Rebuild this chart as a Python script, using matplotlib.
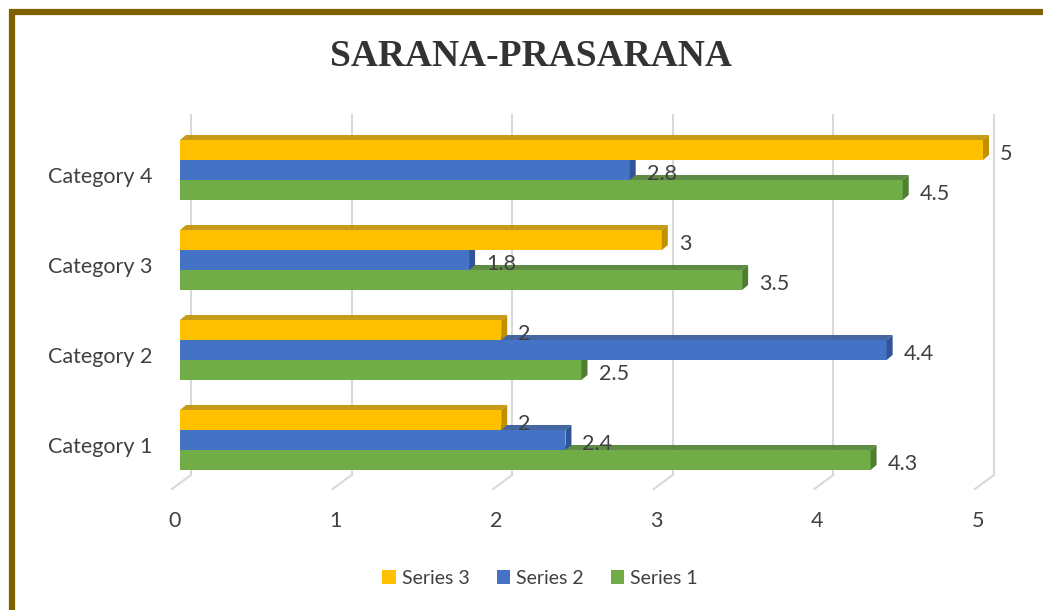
import numpy as np
import matplotlib.pyplot as plt
from matplotlib.patches import Polygon, Rectangle, Patch

categories = ['Category 1', 'Category 2', 'Category 3', 'Category 4']
series1 = [4.3, 2.5, 3.5, 4.5]
series2 = [2.4, 4.4, 1.8, 2.8]
series3 = [2, 2, 3, 5]
x_ticks = [0, 1, 2, 3, 4, 5]

# front colour, darker side colour
colors = {
    'Series 1': ('#70AD47', '#4E7F31'),
    'Series 2': ('#4472C4', '#2F5597'),
    'Series 3': ('#FFC000', '#C09000'),
}
text_color = '#404040'
font = ['Lato', 'DejaVu Sans']

fig = plt.figure(figsize=(10.43, 6.10), dpi=100)

# brown frame, cut off at the right and bottom like the screenshot
fig.patches.append(Rectangle((12 / 1043, -0.2), 1.2, 1.2 - 12 / 610,
                             transform=fig.transFigure, fill=False,
                             edgecolor='#7F6000', linewidth=4.5))

px = 160.6          # pixels per unit on x
ax = fig.add_axes([180 / 1043, 110 / 610, 5.3 * px / 1043, 400 / 610])
ax.set_xlim(0, 5.3)
ax.set_ylim(-0.667, 3.778)
ax.axis('off')

h = 20 / 90          # bar thickness in category units
ddx, ddy = 6 / px, 5 / 90     # bar depth
gdx = 11 / px                 # back wall offset for the gridlines

# gridlines on the back wall plus the short floor diagonals
for v in x_ticks:
    gx = v + gdx
    ax.plot([gx, gx], [(440 - 475) / 90, (440 - 115) / 90], color='#D9D9D9', lw=1.5, zorder=0)
    ax.plot([gx, gx - 19 / px], [(440 - 475) / 90, (440 - 489) / 90], color='#D9D9D9', lw=1.5,
            zorder=0, clip_on=False)
    ax.text(v - 5 / px, (440 - 521) / 90, str(v), ha='center', va='center', fontsize=15.5,
            color=text_color, family=font, clip_on=False)


def bar3d(y0, w, front, side):
    # front face
    ax.add_patch(Rectangle((0, y0), w, h, facecolor=front, edgecolor='none', zorder=2))
    # top face
    ax.add_patch(Polygon([(0, y0 + h), (w, y0 + h), (w + ddx, y0 + h + ddy), (ddx, y0 + h + ddy)],
                         closed=True, facecolor=side, edgecolor='none', zorder=2, alpha=0.9))
    # end face
    ax.add_patch(Polygon([(w, y0), (w + ddx, y0 + ddy), (w + ddx, y0 + h + ddy), (w, y0 + h)],
                         closed=True, facecolor=side, edgecolor='none', zorder=2))


groups = [('Series 1', series1, -1), ('Series 2', series2, 0), ('Series 3', series3, 1)]
for i, cat in enumerate(categories):
    for name, vals, off in groups:
        front, side = colors[name]
        y0 = i + off * h - h / 2   # bottom of this bar
        bar3d(y0, vals[i], front, side)
        ax.text(vals[i] + 17 / px, y0 + h / 2 - 4 / 90, f'{vals[i]:g}', ha='left', va='center',
                fontsize=15.5, color=text_color, family=font, zorder=3)
    ax.text(-28 / px, i - 7 / 90, cat, ha='right', va='center', fontsize=15.5,
            color=text_color, family=font)

fig.text(531 / 1043, 1 - 57 / 610, 'SARANA-PRASARANA', ha='center', va='center',
         fontsize=27, fontweight='bold', color='#333333',
         family=['Liberation Serif', 'DejaVu Serif'])

handles = [Patch(facecolor=colors[n][0], label=n) for n in ['Series 3', 'Series 2', 'Series 1']]
fig.legend(handles=handles, loc='center', bbox_to_anchor=(540 / 1043, 1 - 578 / 610), ncol=3,
           frameon=False, handlelength=0.7, handleheight=0.7, handletextpad=0.3,
           columnspacing=1.4, prop={'family': font, 'size': 14}, labelcolor=text_color)

fig.savefig('out.png', dpi=100)
